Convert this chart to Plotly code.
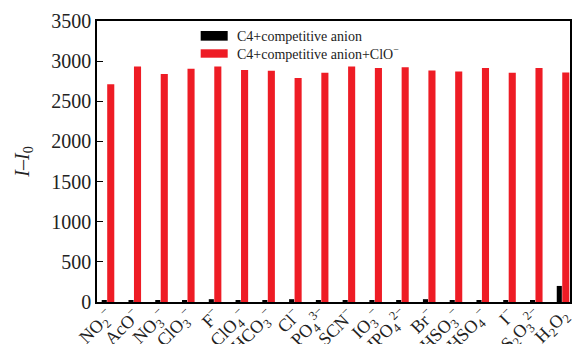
import plotly.graph_objects as go

categories = ["NO<sub>2</sub><sup>−</sup>", "AcO<sup>−</sup>", "NO<sub>3</sub><sup>−</sup>",
              "ClO<sub>3</sub><sup>−</sup>", "F<sup>−</sup>", "ClO<sub>4</sub><sup>−</sup>",
              "HCO<sub>3</sub><sup>−</sup>", "Cl<sup>−</sup>", "PO<sub>4</sub><sup>3−</sup>",
              "SCN<sup>−</sup>", "IO<sub>3</sub><sup>−</sup>", "HPO<sub>4</sub><sup>2−</sup>",
              "Br<sup>−</sup>", "HSO<sub>3</sub><sup>−</sup>", "HSO<sub>4</sub><sup>−</sup>",
              "I<sup>−</sup>", "S<sub>2</sub>O<sub>3</sub><sup>2−</sup>", "H<sub>2</sub>O<sub>2</sub>"]
anion_only = [20, 22, 20, 22, 35, 22, 25, 35, 25, 20, 18, 22, 35, 18, 22, 20, 22, 200]
anion_clo = [2712, 2934, 2841, 2904, 2934, 2891, 2879, 2791, 2854,
             2934, 2916, 2925, 2884, 2871, 2916, 2854, 2916, 2859]
y_ticks = [0, 500, 1000, 1500, 2000, 2500, 3000, 3500]
series_names = ["C4+competitive anion", "C4+competitive anion+ClO<sup>−</sup>"]
series_colors = ["#000000", "#ee1c25"]

xs = list(range(len(categories)))
font_family = "Liberation Serif, DejaVu Serif, serif"
text_color = "#222"

fig = go.Figure()
fig.add_trace(go.Bar(x=xs, y=anion_only, name=series_names[0],
                     marker=dict(color=series_colors[0], line=dict(width=0)),
                     width=0.19, offset=-0.235))
fig.add_trace(go.Bar(x=xs, y=anion_clo, name=series_names[1],
                     marker=dict(color=series_colors[1], line=dict(width=0)),
                     width=0.265, offset=-0.03))

# custom legend (wide swatches)
legend_rows = [(0.930, 0.9644, 0.9466), (0.8694, 0.8993, 0.886)]
for (y0, y1, yt), name, col in zip(legend_rows, series_names, series_colors):
    fig.add_shape(type="rect", xref="paper", yref="paper",
                  x0=0.2192, x1=0.2763, y0=y0, y1=y1,
                  fillcolor=col, line=dict(width=0))
    fig.add_annotation(xref="paper", yref="paper", x=0.2918, y=yt,
                       xanchor="left", yanchor="middle", showarrow=False,
                       text=name, font=dict(size=14, family=font_family, color=text_color))

fig.update_layout(
    width=577, height=344,
    margin=dict(l=97, r=7, t=21, b=42),
    paper_bgcolor="white", plot_bgcolor="white",
    barmode="overlay",
    font=dict(family=font_family, color=text_color),
    showlegend=False,
)
fig.update_xaxes(
    range=[-0.411, 17.26], automargin=False,
    tickmode="array", tickvals=xs, ticktext=categories,
    tickangle=-45, tickfont=dict(size=18, family=font_family, color=text_color),
    ticklabelstandoff=-6,
    showline=True, linecolor="black", linewidth=1.5, mirror=True,
    ticks="", showgrid=False, zeroline=False,
)
fig.update_yaxes(
    range=[0, 3500], automargin=False,
    tickmode="array", tickvals=y_ticks,
    tickfont=dict(size=20, family=font_family, color=text_color),
    ticks="inside", ticklen=6, tickcolor="black",
    showline=True, linecolor="black", linewidth=1.5, mirror=True,
    showgrid=False, zeroline=False,
    title=dict(text="<i>I</i>–<i>I</i><sub>0</sub>", font=dict(size=20, family=font_family, color=text_color), standoff=16),
)

fig.write_html("out.html", config={"displayModeBar": False},
               post_script="document.body.style.margin='0';document.body.style.overflow='hidden';")
